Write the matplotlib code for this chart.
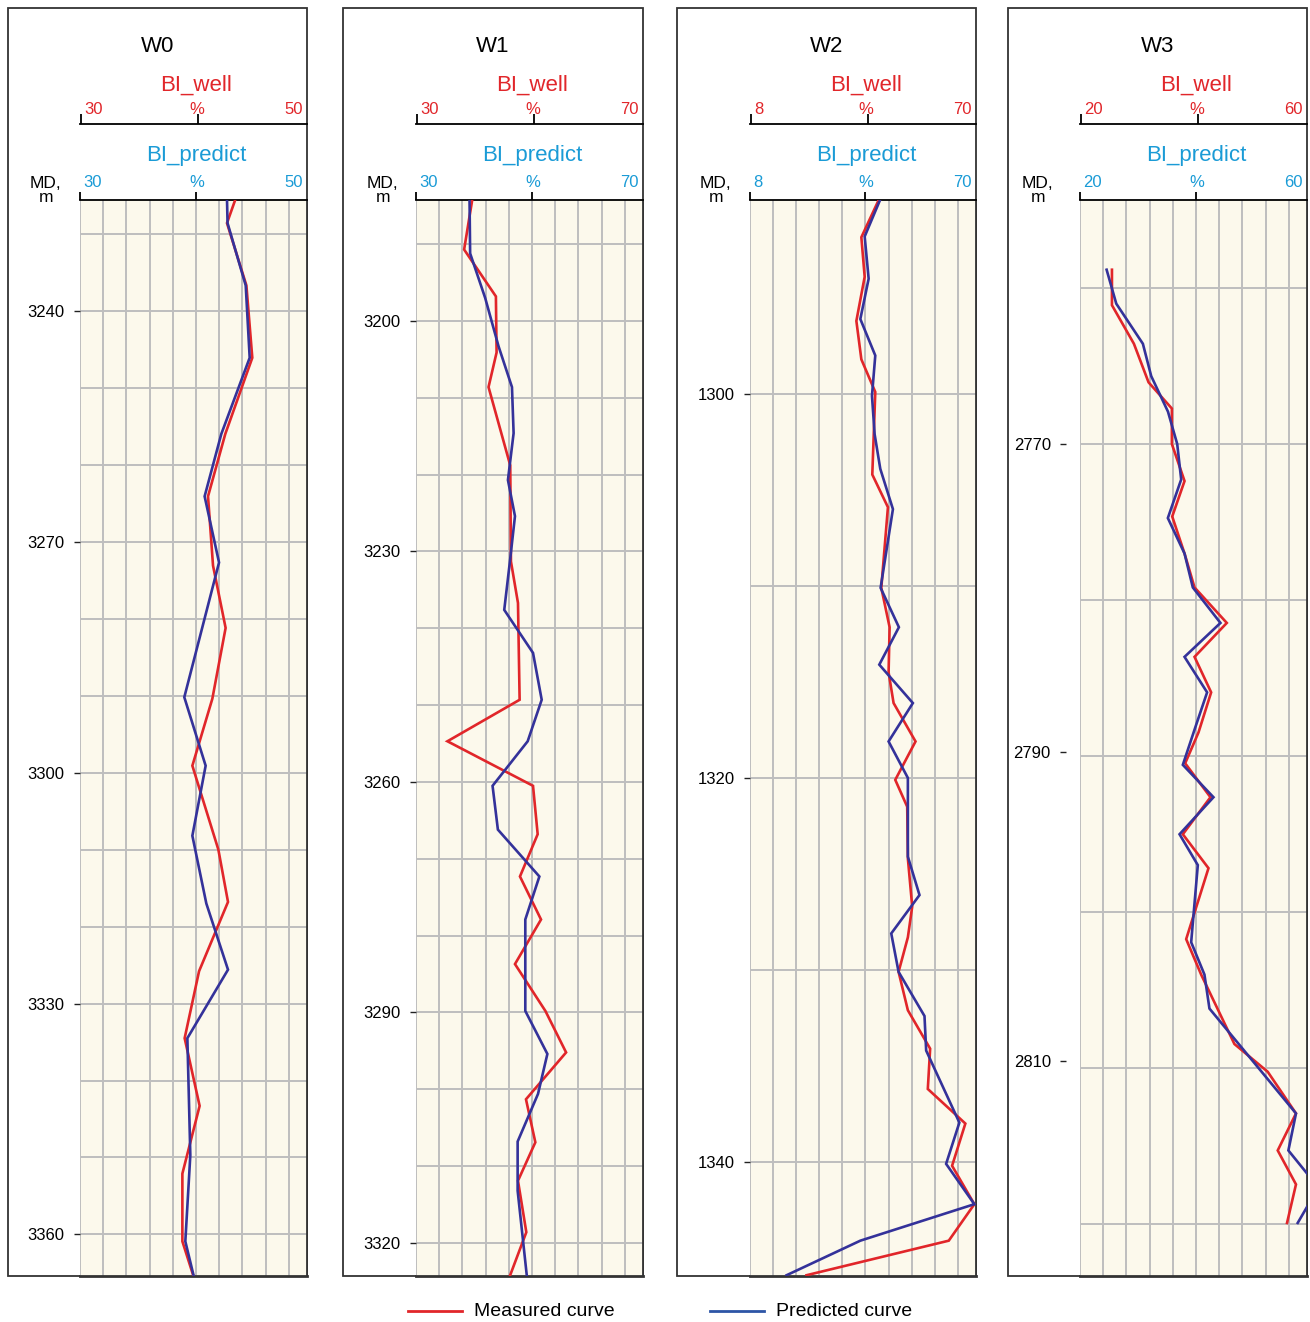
import matplotlib
matplotlib.use("Agg")
import matplotlib.pyplot as plt
from matplotlib.patches import Rectangle
from matplotlib.lines import Line2D
import numpy as np

plt.rcParams['font.family'] = ['Liberation Sans', 'DejaVu Sans']

# ---------------------------------------------------------------- data
wells = ["W0", "W1", "W2", "W3"]
scale_min = [30, 30, 8, 20]
scale_max = [50, 70, 70, 60]
depth_ticks = [
    [3240, 3270, 3300, 3330, 3360],
    [3200, 3230, 3260, 3290, 3320],
    [1300, 1320, 1340],
    [2770, 2790, 2810],
]

# W0
w0_md_well = [3225.4, 3228.6, 3236.7, 3246.1, 3256.0, 3264.1, 3273.1, 3281.2, 3290.4,
              3299.1, 3310.0, 3316.8, 3325.8, 3334.5, 3343.3, 3352.1, 3360.9, 3365.9]
w0_bi_well = [43.72, 42.95, 44.66, 45.18, 42.80, 41.28, 41.72, 42.83, 41.66,
              39.90, 42.19, 43.04, 40.49, 39.22, 40.54, 39.02, 39.02, 40.10]
w0_md_pred = [3225.4, 3228.6, 3236.7, 3246.1, 3256.0, 3264.1, 3272.7, 3290.2,
              3299.1, 3308.2, 3317.0, 3325.6, 3334.5, 3349.7, 3360.9, 3365.9]
w0_bi_pred = [42.95, 43.00, 44.60, 44.95, 42.45, 40.98, 42.25, 39.19,
              41.07, 39.90, 41.13, 43.04, 39.46, 39.72, 39.28, 40.10]

# W1
w1_md_well = [3184.0, 3190.7, 3196.8, 3204.1, 3208.6, 3218.8, 3231.3, 3236.7, 3249.3,
              3254.7, 3260.5, 3266.8, 3272.3, 3277.9, 3283.7, 3289.8, 3295.2, 3301.3,
              3306.9, 3311.9, 3318.6, 3324.5]
w1_bi_well = [39.96, 38.48, 44.08, 44.20, 42.78, 46.61, 46.73, 47.97, 48.26,
              35.54, 50.62, 51.44, 48.32, 52.03, 47.44, 52.80, 56.45, 49.38,
              51.03, 47.97, 49.44, 46.44]
w1_md_pred = [3184.0, 3191.2, 3197.0, 3203.3, 3208.6, 3214.6, 3220.7, 3225.4, 3231.3,
              3237.6, 3243.2, 3249.3, 3254.7, 3260.5, 3266.2, 3272.3, 3277.9, 3289.8,
              3295.4, 3300.6, 3306.8, 3313.2, 3324.5]
w1_bi_pred = [39.43, 39.54, 42.19, 44.55, 46.91, 47.20, 46.20, 47.44, 46.55,
              45.55, 50.62, 52.15, 49.68, 43.49, 44.43, 51.74, 49.26, 49.26,
              53.15, 51.50, 47.91, 47.91, 49.56]

# W2
w2_md_well = [1289.87, 1291.84, 1293.9, 1296.2, 1298.2, 1299.9, 1304.2, 1305.9, 1310.1,
              1312.15, 1314.5, 1316.1, 1318.1, 1320.1, 1321.5, 1324.2, 1326.7, 1328.3,
              1330.1, 1332.1, 1334.1, 1336.2, 1338.0, 1340.2, 1342.2, 1344.1, 1345.9]
w2_bi_well = [43.38, 38.55, 39.46, 37.18, 38.55, 42.37, 41.55, 45.84, 44.02,
              46.30, 46.02, 47.39, 53.41, 47.85, 51.13, 51.31, 52.50, 51.31,
              48.76, 51.31, 57.42, 56.78, 67.08, 63.44, 69.55, 62.53, 23.50]
w2_md_pred = [1289.87, 1291.8, 1294.0, 1296.1, 1298.0, 1300.1, 1302.1, 1303.9, 1306.0,
              1310.1, 1312.15, 1314.1, 1316.1, 1318.1, 1320.0, 1324.1, 1326.1, 1328.1,
              1330.1, 1332.4, 1334.2, 1337.95, 1340.1, 1342.2, 1344.1, 1345.9]
w2_bi_pred = [43.74, 39.46, 40.55, 38.27, 42.37, 41.46, 42.19, 43.74, 47.21,
              43.83, 48.85, 43.47, 52.68, 46.02, 51.31, 51.31, 54.50, 46.75,
              48.76, 55.87, 56.33, 65.44, 61.80, 69.55, 38.27, 18.03]

# W3
w3_md_well = [2758.7, 2761.0, 2763.5, 2766.0, 2767.7, 2770.0, 2772.4, 2774.7, 2777.1,
              2779.3, 2781.6, 2783.8, 2786.1, 2788.7, 2790.7, 2792.9, 2795.3, 2797.5,
              2802.1, 2804.4, 2808.9, 2810.7, 2813.4, 2815.8, 2818.0, 2820.5]
w3_bi_well = [25.63, 25.63, 29.50, 32.08, 36.19, 36.19, 38.42, 36.25, 38.42,
              40.18, 45.87, 40.18, 43.11, 40.88, 38.53, 42.99, 38.12, 42.64,
              38.71, 41.35, 47.21, 53.08, 58.06, 54.84, 58.06, 56.48]
w3_md_pred = [2758.7, 2760.9, 2763.5, 2765.6, 2767.9, 2770.0, 2772.3, 2774.8, 2777.1,
              2779.3, 2781.6, 2783.8, 2786.1, 2788.4, 2790.8, 2792.9, 2795.3, 2797.3,
              2802.3, 2804.4, 2806.6, 2813.4, 2815.8, 2818.2, 2820.5]
w3_bi_pred = [24.69, 26.39, 31.08, 32.55, 35.50, 37.13, 37.83, 35.48, 38.42,
              39.88, 44.75, 38.42, 42.40, 40.29, 38.12, 43.52, 37.54, 40.76,
              39.59, 41.93, 42.81, 58.06, 56.72, 62.00, 58.36]

md_well = [w0_md_well, w1_md_well, w2_md_well, w3_md_well]
bi_well = [w0_bi_well, w1_bi_well, w2_bi_well, w3_bi_well]
md_pred = [w0_md_pred, w1_md_pred, w2_md_pred, w3_md_pred]
bi_pred = [w0_bi_pred, w1_bi_pred, w2_bi_pred, w3_bi_pred]

# ---------------------------------------------------------------- layout
W, H = 1310, 1322
fig = plt.figure(figsize=(W / 100, H / 100), dpi=100)
fig.patch.set_facecolor('white')


def fx(x):
    return x / W


def fy(y):
    return 1 - y / H


RED = '#e1262a'
BLUE = '#34329a'
CYAN = '#1a9bd6'
GRID = '#bebebe'
FRAME = '#333333'
TRACK_BG = '#fcf9ec'

frames_x = [(8, 307), (343, 643), (677, 976), (1008, 1307)]
track_left = [80, 416, 750, 1080]
depth_view = [(3365.4, 3225.6), (3324.3, 3184.25), (1345.94, 1289.9), (2823.94, 2754.18)]
depth_grid = [
    np.arange(3230, 3361, 10),
    np.arange(3190, 3321, 10),
    np.arange(1300, 1341, 10),
    2759.9 + 10.11 * np.arange(7),
]
md_label_dx = [35, 34, 35, 43]
tick_outward = [0, 0, 0, 10]

TOP_Y, TRACK_TOP, BOTTOM = 8, 200, 1276
TOP_SCALE_Y = 124

for i, name in enumerate(wells):
    x0, x1 = frames_x[i]
    xl = track_left[i]
    vmin, vmax = scale_min[i], scale_max[i]

    fig.add_artist(Rectangle((fx(x0), fy(BOTTOM)), (x1 - x0) / W, (BOTTOM - TOP_Y) / H,
                             transform=fig.transFigure, fill=False, ec=FRAME, lw=1.3,
                             zorder=0))

    ax = fig.add_axes([fx(xl), fy(BOTTOM), (x1 - xl) / W, (BOTTOM - TRACK_TOP) / H])
    ax.set_facecolor(TRACK_BG)
    ax.set_xlim(vmin, vmax)
    ax.set_ylim(*depth_view[i])

    step = (vmax - vmin) * 0.1022
    for k in range(10):
        ax.axvline(vmin + k * step, color=GRID, lw=1.4, zorder=1)
    for d in depth_grid[i]:
        ax.axhline(d, color=GRID, lw=1.4, zorder=1)

    ax.plot(bi_well[i], md_well[i], color=RED, lw=1.9, zorder=3, solid_joinstyle='miter')
    ax.plot(bi_pred[i], md_pred[i], color=BLUE, lw=1.9, zorder=4, solid_joinstyle='miter')

    # spines
    ax.spines['left'].set_visible(False)
    ax.spines['top'].set_color('black')
    ax.spines['top'].set_linewidth(1.3)
    ax.spines['right'].set_color(FRAME)
    ax.spines['right'].set_linewidth(1.3)
    ax.spines['bottom'].set_color(FRAME)
    ax.spines['bottom'].set_linewidth(2.0)
    if tick_outward[i]:
        ax.spines['left'].set_position(('outward', tick_outward[i]))

    # BI_predict scale along the top of the track
    mid_bottom = vmin + 5 * step
    ax.xaxis.tick_top()
    ax.set_xticks([vmin, mid_bottom])
    ax.set_xticklabels(['', ''])
    ax.tick_params(axis='x', direction='out', length=6, width=1.3, color='black')

    # depth axis
    ax.set_yticks(depth_ticks[i])
    ax.set_yticklabels([str(d) for d in depth_ticks[i]], fontsize=12)
    ax.tick_params(axis='y', direction='out', length=4, width=1.0, color='#222222', pad=7)

    # BI_well scale above
    loc = 1 + (TRACK_TOP - TOP_SCALE_Y) / (BOTTOM - TRACK_TOP)
    sec = ax.secondary_xaxis(loc)
    sec.set_xticks([vmin + 0.003 * (vmax - vmin), vmin + 0.52 * (vmax - vmin)])
    sec.set_xticklabels(['', ''])
    sec.tick_params(axis='x', direction='out', length=7, width=1.3, color='black')
    sec.spines['top'].set_linewidth(1.3)

    # texts
    xc_frame = (x0 + x1) / 2
    xc_track = (xl + x1) / 2 + 3
    fig.text(fx(xc_frame), fy(52), name, ha='center', va='baseline', fontsize=16)
    fig.text(fx(xc_track), fy(91), 'BI_well', ha='center', va='baseline',
             fontsize=16, color=RED)
    fig.text(fx(xl + 4), fy(114.5), str(vmin), ha='left', va='baseline', fontsize=12, color=RED)
    fig.text(fx(xc_track), fy(114.5), '%', ha='center', va='baseline', fontsize=12, color=RED)
    fig.text(fx(x1 - 4), fy(114.5), str(vmax), ha='right', va='baseline', fontsize=12, color=RED)

    fig.text(fx(xc_track), fy(161), 'BI_predict', ha='center', va='baseline',
             fontsize=16, color=CYAN)
    fig.text(fx(xl + 3), fy(187), str(vmin), ha='left', va='baseline', fontsize=12, color=CYAN)
    fig.text(fx(xc_track), fy(187), '%', ha='center', va='baseline', fontsize=12, color=CYAN)
    fig.text(fx(x1 - 4), fy(187), str(vmax), ha='right', va='baseline', fontsize=12, color=CYAN)

    fig.text(fx(xl - md_label_dx[i]), fy(187.5), 'MD,', ha='center', va='baseline', fontsize=12.5)
    fig.text(fx(xl - md_label_dx[i] + 1), fy(202.5), 'm', ha='center', va='baseline', fontsize=12.5)

# ---------------------------------------------------------------- legend
legend_items = [("Measured curve", RED, 408), ("Predicted curve", '#2d55a6', 710)]
for label, color, x_start in legend_items:
    fig.add_artist(Line2D([fx(x_start), fx(x_start + 54)], [fy(1311), fy(1311)],
                          transform=fig.transFigure, color=color, lw=2.0))
    fig.text(fx(x_start + 66), fy(1311), label, ha='left', va='center', fontsize=14)

fig.savefig('out.png', dpi=100, facecolor='white')
